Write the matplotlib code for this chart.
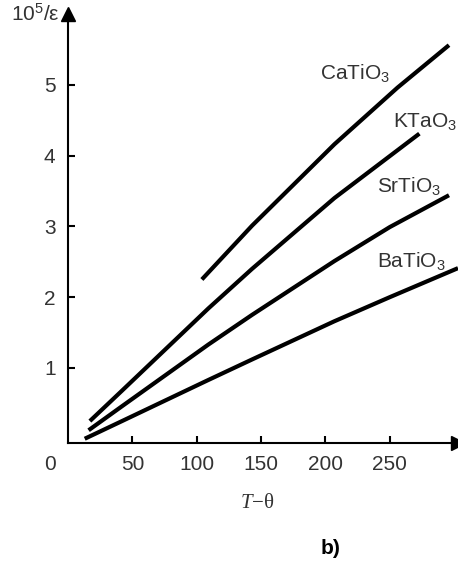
import matplotlib
matplotlib.use("Agg")
import matplotlib.pyplot as plt

plt.rcParams['font.family'] = ['Liberation Sans', 'DejaVu Sans']
plt.rcParams['mathtext.fontset'] = 'custom'
plt.rcParams['mathtext.it'] = 'Liberation Serif:italic'
plt.rcParams['mathtext.rm'] = 'Liberation Sans'

# curves: T - theta vs 10^5/eps
ba_t = [13, 42, 109, 143, 207, 250, 303]
ba_y = [0.0, 0.25, 0.83, 1.12, 1.66, 2.00, 2.41]
sr_t = [16, 42, 109, 143, 207, 250, 296]
sr_y = [0.12, 0.46, 1.33, 1.75, 2.51, 2.99, 3.44]
kt_t = [17, 42, 109, 143, 207, 273]
kt_y = [0.25, 0.68, 1.84, 2.40, 3.40, 4.31]
ca_t = [104, 143, 207, 256, 296]
ca_y = [2.25, 3.01, 4.16, 4.96, 5.56]

xticks = [50, 100, 150, 200, 250]
yticks = [1, 2, 3, 4, 5]

fig = plt.figure(figsize=(4.58, 5.63), dpi=100)
ax = fig.add_axes([68 / 458, 1 - 443 / 563, 390 / 458, 429 / 563])

for t, y in [(ba_t, ba_y), (sr_t, sr_y), (kt_t, kt_y), (ca_t, ca_y)]:
    ax.plot(t, y, color='black', lw=3.0, solid_capstyle='butt',
            solid_joinstyle='round')

ax.set_xlim(0, 303)
ax.set_ylim(-0.06, 6.0)
ax.spines['top'].set_visible(False)
ax.spines['right'].set_visible(False)
ax.spines['left'].set_linewidth(1.5)
ax.spines['bottom'].set_linewidth(1.5)
ax.set_xticks(xticks)
ax.set_yticks(yticks)
ax.tick_params(direction='in', length=5, width=1.5, labelsize=15,
               labelcolor='#333333')
ax.tick_params(axis='x', pad=9)
ax.tick_params(axis='y', pad=9)

# arrow heads
ax.plot(0, 1, '^', color='black', ms=10, transform=ax.transAxes, clip_on=False)
ax.plot(1, 0, '>', color='black', ms=10, transform=ax.transAxes, clip_on=False)

ax.text(-14, -0.37, '0', fontsize=15, color='#333333', ha='center', va='center',
        clip_on=False)
ax.text(-0.02, 1.0, '10$^{\\mathregular{5}}$/ε', transform=ax.transAxes,
        fontsize=15, color='#333333', ha='right', va='center')

lab = dict(fontsize=15, color='#333333', va='baseline')
ax.text(196, 5.08, 'CaTiO$_{\\mathregular{3}}$', **lab)
ax.text(252.5, 4.41, 'KTaO$_{\\mathregular{3}}$', **lab)
ax.text(240, 3.49, 'SrTiO$_{\\mathregular{3}}$', **lab)
ax.text(240, 2.43, 'BaTiO$_{\\mathregular{3}}$', **lab)

fig.text(257 / 458, 1 - 503 / 563, '$\\mathit{T}$\u2212θ', fontsize=15,
         family='Liberation Serif', color='#333333', ha='center', va='center')
fig.text(331 / 458, 1 - 548 / 563, 'b)', fontsize=15, fontweight='bold',
         color='black', ha='center', va='center')

fig.savefig('out.png', dpi=100)
